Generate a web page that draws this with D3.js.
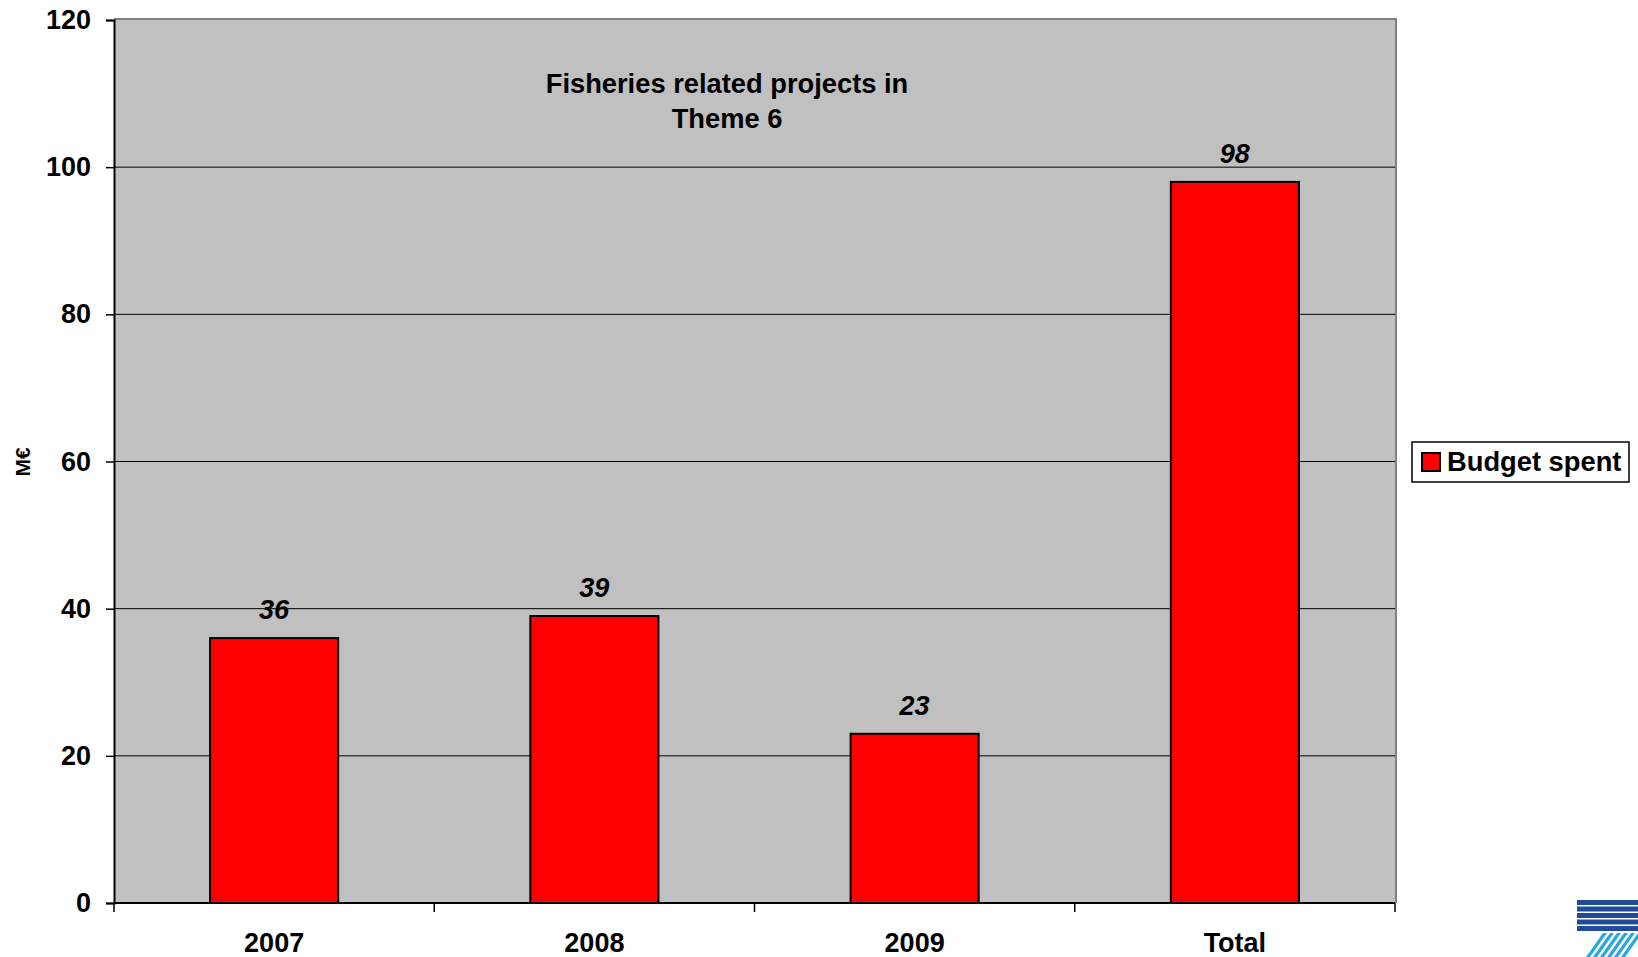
<!DOCTYPE html>
<html>
<head>
<meta charset="utf-8">
<script src="https://cdn.jsdelivr.net/npm/d3@7"></script>
<style>
  html, body { margin: 0; padding: 0; background: #fff; }
  svg { display: block; font-family: "Liberation Sans", Arial, sans-serif; }
</style>
</head>
<body>
<svg id="chart" width="1638" height="957"></svg>
<script>
const categories = ["2007", "2008", "2009", "Total"];
const budgetSpent = [36, 39, 23, 98];
const yTicks = [0, 20, 40, 60, 80, 100, 120];
const titleLines = ["Fisheries related projects in", "Theme 6"];
const seriesName = "Budget spent";
const yLabel = "M€";

const svg = d3.select("#chart");
const L = 114, R = 1395, T = 20, B = 903;

const x = d3.scaleBand().domain(categories).range([L, R]).padding(0);
const y = d3.scaleLinear().domain([0, 120]).range([B, T]);

// plot background
svg.append("rect").attr("x", L).attr("y", T).attr("width", R - L).attr("height", B - T)
  .attr("fill", "#C0C0C0");

// gridlines
svg.append("g").selectAll("line").data(yTicks.filter(d => d > 0 && d < 120)).join("line")
  .attr("x1", L).attr("x2", R).attr("y1", d => y(d)).attr("y2", d => y(d))
  .attr("stroke", "#000").attr("stroke-width", 1);

// top & right border (grey)
svg.append("path")
  .attr("d", `M${L},${y(120) - 1}H${R + 1}V${B}`)
  .attr("fill", "none").attr("stroke", "#808080").attr("stroke-width", 2);

// bars
const bw = x.bandwidth() * 0.4;
svg.append("g").selectAll("rect").data(categories).join("rect")
  .attr("x", d => x(d) + (x.bandwidth() - bw) / 2)
  .attr("width", bw)
  .attr("y", (d, i) => y(budgetSpent[i]))
  .attr("height", (d, i) => y(0) - y(budgetSpent[i]))
  .attr("fill", "#FF0000").attr("stroke", "#000").attr("stroke-width", 2);

// data labels
svg.append("g").selectAll("text").data(categories).join("text")
  .attr("x", d => x(d) + x.bandwidth() / 2)
  .attr("y", (d, i) => y(budgetSpent[i]) - 19)
  .attr("text-anchor", "middle")
  .attr("font-size", 27).attr("font-weight", "bold").attr("font-style", "italic")
  .text((d, i) => budgetSpent[i]);

// y axis
const yAxis = svg.append("g").attr("transform", `translate(${L},0)`)
  .call(d3.axisLeft(y).tickValues(yTicks).tickSize(8).tickPadding(15));
yAxis.select(".domain").attr("stroke", "#000").attr("stroke-width", 2);
yAxis.selectAll(".tick line").attr("stroke", "#000").attr("stroke-width", 1.5);
yAxis.selectAll(".tick text").attr("font-size", 27).attr("font-weight", "bold")
  .attr("font-family", "'Liberation Sans', Arial, sans-serif").attr("fill", "#000");

// x axis
const xAxis = svg.append("g").attr("transform", `translate(0,${B})`)
  .call(d3.axisBottom(x).tickSize(0).tickPadding(30));
xAxis.select(".domain").remove();
xAxis.selectAll(".tick text").attr("font-size", 27).attr("font-weight", "bold")
  .attr("font-family", "'Liberation Sans', Arial, sans-serif").attr("fill", "#000");
svg.append("line").attr("x1", L).attr("x2", R).attr("y1", B).attr("y2", B)
  .attr("stroke", "#000").attr("stroke-width", 2);
const bounds = categories.map(d => x(d)).concat([x(categories[categories.length - 1]) + x.bandwidth()]);
svg.append("g").selectAll("line").data(bounds).join("line")
  .attr("x1", d => d).attr("x2", d => d).attr("y1", B).attr("y2", B + 9)
  .attr("stroke", "#000").attr("stroke-width", 1.5);

// title
svg.append("g").selectAll("text").data(titleLines).join("text")
  .attr("x", 727).attr("y", (d, i) => 93 + i * 35)
  .attr("text-anchor", "middle").attr("font-size", 27.3).attr("font-weight", "bold")
  .text(d => d);

// y axis label
svg.append("text").attr("transform", "translate(30,462) rotate(-90)")
  .attr("text-anchor", "middle").attr("font-size", 21).attr("font-weight", "bold")
  .text(yLabel);

// legend
const lg = svg.append("g");
lg.append("rect").attr("x", 1412).attr("y", 442).attr("width", 217).attr("height", 40)
  .attr("fill", "#fff").attr("stroke", "#000").attr("stroke-width", 1.5);
lg.append("rect").attr("x", 1422).attr("y", 453).attr("width", 18).attr("height", 18)
  .attr("fill", "#FF0000").attr("stroke", "#000").attr("stroke-width", 2);
lg.append("text").attr("x", 1447).attr("y", 471).attr("font-size", 27.3).attr("font-weight", "bold")
  .text(seriesName);

// FP7-style logo corner (decoration)
const logo = svg.append("g");
for (let i = 0; i < 5; i++) {
  logo.append("rect").attr("x", 1577).attr("y", 900 + i * 6.5).attr("width", 61).attr("height", 5)
    .attr("fill", "#1f4b9a");
}
for (let i = 0; i < 6; i++) {
  const x0 = 1603 + i * 7;
  logo.append("path")
    .attr("d", `M${x0},933 L${x0 + 4},933 L${x0 - 13},957 L${x0 - 17},957 Z`)
    .attr("fill", "#2aa7e0");
}
</script>
</body>
</html>
